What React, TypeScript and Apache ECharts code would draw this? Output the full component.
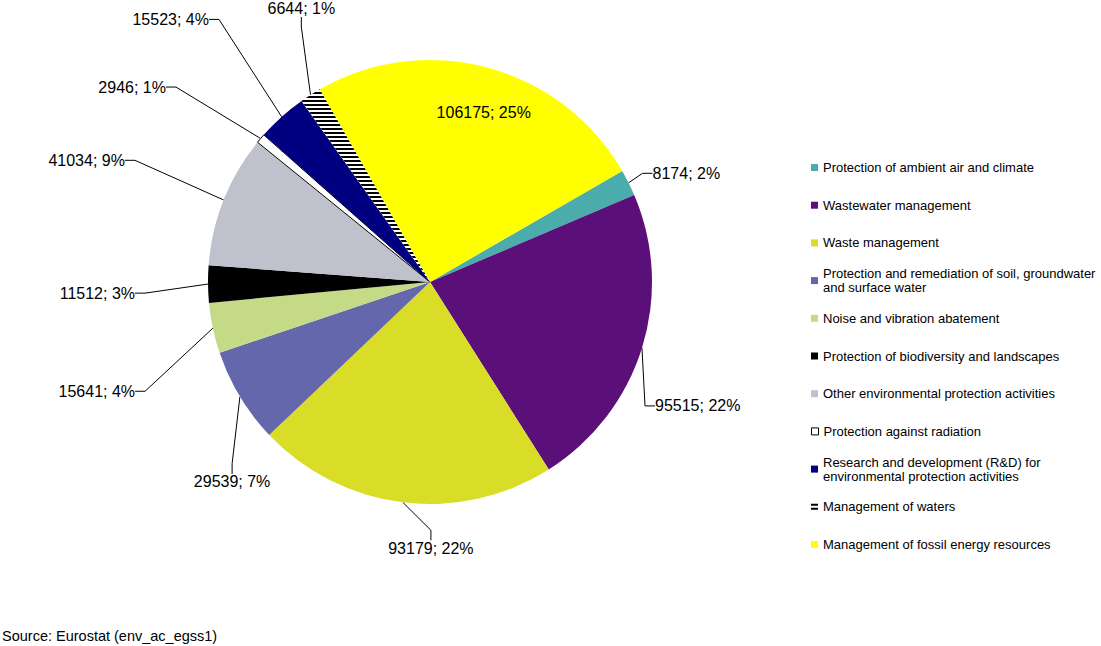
import { useEffect, useRef } from "react";
import * as echarts from "echarts";

const categories = [
  "Protection of ambient air and climate",
  "Wastewater management",
  "Waste management",
  "Protection and remediation of soil, groundwater and surface water",
  "Noise and vibration abatement",
  "Protection of biodiversity and landscapes",
  "Other environmental protection activities",
  "Protection against radiation",
  "Research and development (R&D) for environmental protection activities",
  "Management of waters",
  "Management of fossil energy resources",
];
const legendLabels = [
  "Protection of ambient air and climate",
  "Wastewater management",
  "Waste management",
  "Protection and remediation of soil, groundwater\nand surface water",
  "Noise and vibration abatement",
  "Protection of biodiversity and landscapes",
  "Other environmental protection activities",
  "Protection against radiation",
  "Research and development (R&D) for\nenvironmental protection activities",
  "Management of waters",
  "Management of fossil energy resources",
];
const values = [8174, 95515, 93179, 29539, 15641, 11512, 41034, 2946, 15523, 6644, 106175];
const percents = [2, 22, 22, 7, 4, 3, 9, 1, 4, 1, 25];
const sourceText = "Source: Eurostat (env_ac_egss1)";

// styling
const colors = ["#4BACAC", "#5B0F78", "#D9DD27", "#6467AB", "#C4DA86", "#000000", "#BFC1CD", "#FFFFFF", "#000080", "#FFFFFF", "#FFFF00"];
const labelShift: [number, number][] = [
  [0, -5], [-11.5, 55], [87, 36], [54, 80], [-53, 61], [-48, 9],
  [-74.5, -36], [-72, -45], [-51, -90], [45, -77.5], [24, -59],
];
const FONT = "Arial, 'Liberation Sans', sans-serif";

export default function App() {
  const ref = useRef<HTMLDivElement>(null);
  useEffect(() => {
    if (!ref.current) return;
    const chart = echarts.init(ref.current, null, { renderer: "svg" });
    const data = categories.map((name, i) => {
      const item: any = { name, value: values[i], itemStyle: { color: colors[i] } };
      if (i === 7) item.itemStyle = { color: "#FFFFFF", borderColor: "#000", borderWidth: 1 };
      if (i === 9)
        item.itemStyle = {
          color: "#FFFFFF",
          decal: { symbol: "rect", symbolSize: 1, dashArrayX: [1, 0], dashArrayY: [1.5, 1.5], rotation: 0, color: "#000" },
        };
      if (i === 10) {
        item.label = { position: "inside" };
        item.labelLine = { show: false };
      }
      return item;
    });
    const legendStep = 37.7;
    const legendTop0 = 167.5;
    const legends = categories.map((name, i) => {
      const twoLine = legendLabels[i].includes("\n");
      const d: any = { name };
      if (i === 7) d.itemStyle = { color: "#FFFFFF", borderColor: "#000", borderWidth: 1 };
      if (i === 9) {
        d.icon = "path://M0,0H7V2H0Z M0,4H7V6H0Z";
        d.itemStyle = { color: "#000", decal: "none" };
      }
      return {
        show: true,
        orient: "vertical",
        left: 811,
        top: legendTop0 + i * legendStep - (twoLine ? 21 : 7),
        padding: 0,
        icon: "rect",
        itemWidth: 7,
        itemHeight: 7,
        selectedMode: false,
        data: [d],
        formatter: () => legendLabels[i],
        textStyle: {
          fontSize: 13,
          lineHeight: 14,
          color: "#000",
          fontFamily: FONT,
          padding: twoLine ? [14, 0, 0, 0] : 0,
        },
      };
    });
    chart.setOption({
      animation: false,
      backgroundColor: "#fff",
      title: {
        text: sourceText,
        left: 2,
        top: 628,
        padding: 0,
        textStyle: { fontSize: 14.5, fontWeight: "normal", color: "#000", fontFamily: FONT },
      },
      legend: legends,
      series: [
        {
          type: "pie",
          center: [430, 282],
          radius: 222,
          startAngle: 30,
          clockwise: true,
          avoidLabelOverlap: false,
          data,
          label: {
            show: true,
            position: "outside",
            fontSize: 16,
            color: "#000",
            fontFamily: FONT,
            formatter: (p: any) => `${p.value}; ${percents[p.dataIndex]}%`,
          },
          labelLine: { show: true, length: 10, length2: 10, lineStyle: { color: "#000", width: 1 } },
          labelLayout: (params: any) => {
            const [dx, dy] = labelShift[params.dataIndex];
            const r = params.labelRect;
            const ax = params.align === "left" ? r.x : params.align === "right" ? r.x + r.width : r.x + r.width / 2;
            return { x: ax + dx, y: r.y + r.height / 2 + dy };
          },
          emphasis: { disabled: true },
        },
      ],
    });
    return () => chart.dispose();
  }, []);
  return <div ref={ref} style={{ position: "fixed", left: 0, top: 0, width: 1101, height: 646 }} />;
}
